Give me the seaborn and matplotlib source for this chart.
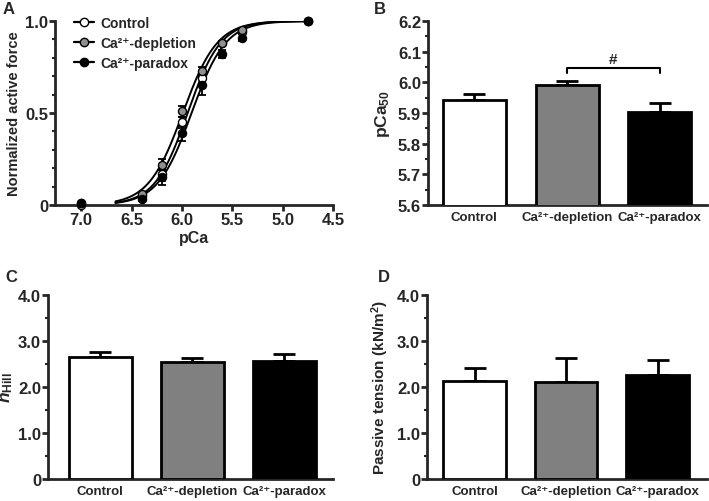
import numpy as np
import pandas as pd
import matplotlib
matplotlib.use('Agg')
import matplotlib.pyplot as plt
from matplotlib.lines import Line2D
from matplotlib.ticker import MultipleLocator
import seaborn as sns

sns.set_style('ticks')
plt.rcParams['font.family'] = ['Liberation Sans', 'DejaVu Sans']
plt.rcParams['font.weight'] = 'bold'
plt.rcParams['axes.labelweight'] = 'bold'
plt.rcParams['mathtext.fontset'] = 'custom'
plt.rcParams['mathtext.rm'] = 'Liberation Sans:bold'
plt.rcParams['mathtext.bf'] = 'Liberation Sans:bold'
plt.rcParams['mathtext.it'] = 'Liberation Sans:italic:bold'
plt.rcParams['mathtext.default'] = 'rm'

# ── 데이터 ────────────────────────────────────────────────────────────────
groups = ['Control', 'Ca²⁺-depletion', 'Ca²⁺-paradox']
bar_colors = ['white', '#808080', 'black']

# A: force-pCa
pca = [7.0, 6.4, 6.2, 6.0, 5.8, 5.6, 5.4, 4.75]
force_ctrl = [0.0, 0.05, 0.17, 0.45, 0.69, 0.88, 0.94, 1.0]
force_depl = [0.01, 0.06, 0.22, 0.51, 0.73, 0.88, 0.95, 1.0]
force_para = [0.01, 0.03, 0.15, 0.39, 0.65, 0.82, 0.91, 1.0]
err_ctrl = [0.0, 0.01, 0.04, 0.03, 0.03, 0.01, 0.01, 0.0]
err_depl = [0.0, 0.01, 0.03, 0.03, 0.02, 0.01, 0.01, 0.0]
err_para = [0.0, 0.01, 0.04, 0.04, 0.05, 0.02, 0.02, 0.0]

# B: pCa50
pca50 = [5.943, 5.991, 5.904]
pca50_sem = [0.019, 0.014, 0.029]

# C: nHill
nhill = [2.65, 2.54, 2.57]
nhill_sem = [0.11, 0.09, 0.15]

# D: passive tension
passive = [2.14, 2.10, 2.26]
passive_sem = [0.27, 0.54, 0.33]

W, H = 709, 502
fig = plt.figure(figsize=(W / 100, H / 100), dpi=100)


def px_axes(l, r, t, b):
    return fig.add_axes([l / W, 1 - b / H, (r - l) / W, (b - t) / H])


def style_axes(ax):
    sns.despine(ax=ax)
    for s in ['left', 'bottom']:
        ax.spines[s].set_linewidth(2)
    ax.tick_params(axis='both', which='major', width=2, length=4, labelsize=12, pad=1)
    ax.tick_params(axis='both', which='minor', width=1.5, length=2.5)


# ── A ─────────────────────────────────────────────────────────────────────
axA = px_axes(55, 333, 22, 206)
series = [
    ('Control', force_ctrl, err_ctrl, 'white', pca50[0], nhill[0]),
    ('Ca²⁺-depletion', force_depl, err_depl, '#909090', pca50[1], nhill[1]),
    ('Ca²⁺-paradox', force_para, err_para, 'black', pca50[2], nhill[2]),
]
fit_x = np.linspace(6.66, 4.75, 200)
handles = []
for name, f, e, c, p50, nh in series:
    fit_y = 1 / (1 + 10 ** (nh * (fit_x - p50)))
    sns.lineplot(x=fit_x, y=fit_y, ax=axA, color='black', lw=1.4, sort=False)
    axA.errorbar(pca, f, yerr=e, fmt='none', ecolor='black', elinewidth=1.3,
                 capsize=3, capthick=1.3, zorder=3)
    sns.scatterplot(x=pca, y=f, ax=axA, color=c, edgecolor='black', linewidth=1,
                    s=34, zorder=4, clip_on=False)
    handles.append(Line2D([], [], color='black', lw=1.6, marker='o', markersize=6,
                          markerfacecolor=c, markeredgecolor='black', label=name))
axA.set_xlim(7.26, 4.5)
axA.set_ylim(0, 1.0)
axA.set_xticks([7.0, 6.5, 6.0, 5.5, 5.0, 4.5])
axA.set_xticklabels(['7.0', '6.5', '6.0', '5.5', '5.0', '4.5'])
axA.set_yticks([0, 0.5, 1.0])
axA.set_yticklabels(['0', '0.5', '1.0'])
axA.yaxis.set_minor_locator(MultipleLocator(0.1))
style_axes(axA)
axA.set_xlabel('pCa', fontsize=11.5, labelpad=2)
axA.set_ylabel('Normalized active force', fontsize=10.5, labelpad=3)
axA.legend(handles=handles, loc='upper left', bbox_to_anchor=(0.05, 1.06),
           frameon=False, fontsize=10, handlelength=1.4, handletextpad=0.5,
           labelspacing=0.45, borderaxespad=0)


# ── 막대 패널 공통 ─────────────────────────────────────────────────────────
def bar_panel(ax, vals, sems, xlim):
    df = pd.DataFrame({'group': groups, 'value': vals})
    sns.barplot(data=df, x='group', y='value', hue='group', palette=bar_colors,
                edgecolor='black', linewidth=2, width=0.68, legend=False, ax=ax,
                errorbar=None, zorder=3)
    ax.errorbar(range(len(vals)), vals, yerr=[np.zeros(len(vals)), sems], fmt='none',
                ecolor='black', elinewidth=2, capsize=8, capthick=2, zorder=2)
    ax.set_xlim(*xlim)
    style_axes(ax)
    ax.tick_params(axis='x', length=0, labelsize=9.5, pad=4)
    ax.set_xlabel('')


# B
axB = px_axes(428, 707, 22, 206)
bar_panel(axB, pca50, pca50_sem, (-0.5, 2.51))
axB.set_ylim(5.6, 6.2)
axB.set_yticks(np.arange(5.6, 6.21, 0.1))
axB.set_yticklabels(['5.6', '5.7', '5.8', '5.9', '6.0', '6.1', '6.2'])
axB.yaxis.set_minor_locator(MultipleLocator(0.05))
axB.set_ylabel('pCa$_{50}$', fontsize=12.5, labelpad=4)
br_y = 6.046
axB.plot([1, 1, 2, 2], [br_y - 0.016, br_y, br_y, br_y - 0.016], color='black', lw=1.5)
axB.text(1.5, br_y + 0.008, '#', ha='center', va='bottom', fontsize=11)

# C
axC = px_axes(48, 333, 296, 480)
bar_panel(axC, nhill, nhill_sem, (-0.57, 2.53))
axC.set_ylim(0, 4.0)
axC.set_yticks([0, 1, 2, 3, 4])
axC.set_yticklabels(['0', '1.0', '2.0', '3.0', '4.0'])
axC.yaxis.set_minor_locator(MultipleLocator(0.5))
axC.set_ylabel(r'$\mathit{n}_{\mathrm{Hill}}$', fontsize=12.5, labelpad=2)

# D
axD = px_axes(427, 707, 296, 480)
bar_panel(axD, passive, passive_sem, (-0.52, 2.54))
axD.set_ylim(0, 4.0)
axD.set_yticks([0, 1, 2, 3, 4])
axD.set_yticklabels(['0', '1.0', '2.0', '3.0', '4.0'])
axD.yaxis.set_minor_locator(MultipleLocator(0.5))
axD.set_ylabel('Passive tension (kN/m$^2$)', fontsize=11, labelpad=4)

# 패널 라벨
for lbl, x, y in [('A', 3, 2), ('B', 374, 2), ('C', 5, 270), ('D', 378, 270)]:
    fig.text(x / W, 1 - y / H, lbl, fontsize=12, fontweight='bold', va='top', ha='left')

fig.savefig('out.png', dpi=100)
